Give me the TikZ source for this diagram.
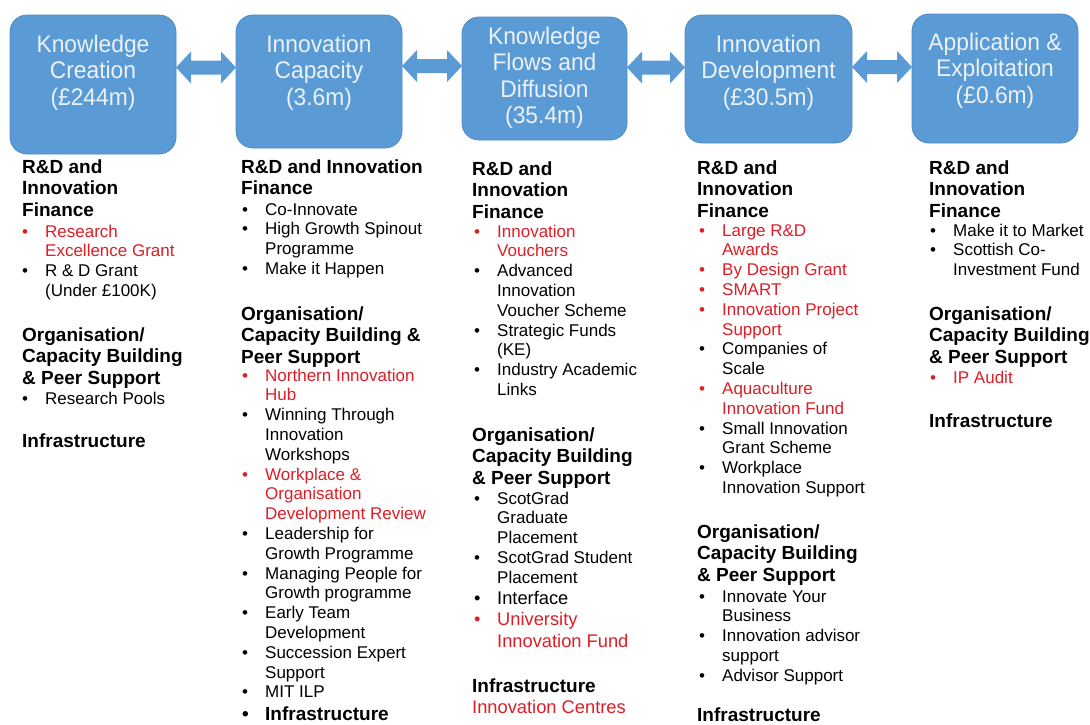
\documentclass[tikz,border=0pt]{standalone}
\usepackage{fontspec}
\setmainfont{Liberation Sans}
\newfontfamily\stagefont[FakeStretch=0.95]{Liberation Sans}
\usetikzlibrary{calc}

\definecolor{stageblue}{RGB}{91,155,213}
\definecolor{stageedge}{RGB}{78,138,198}
\definecolor{stagetext}{RGB}{236,241,248}
\definecolor{itemred}{RGB}{222,30,38}

% a left-aligned block of lines whose base anchor is its first baseline
\newcommand\leftlines[1]{\vtop{\halign{##\hfil\cr#1\crcr}}}
\newcommand\midlines[1]{\vtop{\halign{\hfil##\hfil\cr#1\crcr}}}
\newlength\itemgap
\setlength\itemgap{23pt}
\newcommand\itm[1]{\makebox[\itemgap][l]{\textbullet}#1}
\newcommand\cnt[1]{\makebox[\itemgap][l]{}#1}
\newcommand\ritm[1]{{\color{itemred}\itm{#1}}}
\newcommand\rcnt[1]{{\color{itemred}\cnt{#1}}}

% double-headed block arrow between two stages at height #3
\newcommand\linkarrow[3]{%
  \fill[stageblue] let \p1=(#1.east), \p2=(#2.west), \p3=(0,#3) in
    (\x1,\y3) -- (\x1+15pt,\y3+16pt) -- (\x1+15pt,\y3+7pt)
    -- (\x2-15pt,\y3+7pt) -- (\x2-15pt,\y3+16pt) -- (\x2,\y3)
    -- (\x2-15pt,\y3-16pt) -- (\x2-15pt,\y3-7pt)
    -- (\x1+15pt,\y3-7pt) -- (\x1+15pt,\y3-16pt) -- cycle;}

\tikzset{
  stage/.style={rounded corners=17pt, fill=stageblue, draw=stageedge,
    line width=0.8pt, inner sep=0pt, outer sep=0pt},
  stagelabel/.style={anchor=base, inner sep=0pt, text=stagetext,
    font=\stagefont\fontsize{24}{26.6}\selectfont},
  heading/.style={anchor=base west, inner sep=0pt,
    font=\fontsize{19}{21.8}\selectfont\bfseries},
  items/.style={anchor=base west, inner sep=0pt,
    font=\fontsize{17}{19.8}\selectfont},
  bigitems/.style={anchor=base west, inner sep=0pt,
    font=\fontsize{18.3}{21.5}\selectfont},
}

\begin{document}
\begin{tikzpicture}[x=1pt,y=-1pt]
\useasboundingbox[fill=white] (0,0) rectangle (1090,724);

% stages
\node[stage, minimum width=166, minimum height=139] (b1) at (93,84.5) {};
\node[stage, minimum width=166, minimum height=133] (b2) at (319,81.5) {};
\node[stage, minimum width=165, minimum height=123] (b3) at (544.5,78.5) {};
\node[stage, minimum width=167, minimum height=128] (b4) at (768.5,79) {};
\node[stage, minimum width=166, minimum height=129] (b5) at (995,78.5) {};

\node[stagelabel] (l1) at (93,52) {\midlines{Knowledge\cr Creation\cr (£244m)}};
\node[stagelabel] (l2) at (319,52) {\midlines{Innovation\cr Capacity\cr (3.6m)}};
\node[stagelabel] (l3) at (544.5,44) {\midlines{Knowledge\cr Flows and\cr Diffusion\cr (35.4m)}};
\node[stagelabel] (l4) at (768.5,52) {\midlines{Innovation\cr Development\cr (£30.5m)}};
\node[stagelabel] (l5) at (995,50) {\midlines{Application \&\cr Exploitation\cr (£0.6m)}};

% links between stages
\linkarrow{b1}{b2}{67.5}
\linkarrow{b2}{b3}{66}
\linkarrow{b3}{b4}{67.5}
\linkarrow{b4}{b5}{67}

% column 1
\node[heading] (c1h1) at (22,173) {\leftlines{R\&D and\cr Innovation\cr Finance}};
\node[items] (c1i1) at (22,237) {\leftlines{%
  \ritm{Research}\cr \rcnt{Excellence Grant}\cr
  \itm{R \& D Grant}\cr \cnt{(Under £100K)}}};
\node[heading] (c1h2) at (22,341) {\leftlines{Organisation/\cr Capacity Building\cr \& Peer Support}};
\node[items] (c1i2) at (22,404) {\leftlines{\itm{Research Pools}}};
\node[heading] (c1h3) at (22,447) {Infrastructure};

% column 2
\node[heading] (c2h1) at (241,173) {\leftlines{R\&D and Innovation\cr Finance}};
\node[items] (c2i1) at (242,215) {\leftlines{%
  \itm{Co-Innovate}\cr \itm{High Growth Spinout}\cr \cnt{Programme}\cr
  \itm{Make it Happen}}};
\node[heading] (c2h2) at (241,320) {\leftlines{Organisation/\cr Capacity Building \&\cr Peer Support}};
\node[items] (c2i2) at (242,381) {\leftlines{%
  \ritm{Northern Innovation}\cr \rcnt{Hub}\cr
  \itm{Winning Through}\cr \cnt{Innovation}\cr \cnt{Workshops}\cr
  \ritm{Workplace \&}\cr \rcnt{Organisation}\cr \rcnt{Development Review}\cr
  \itm{Leadership for}\cr \cnt{Growth Programme}\cr
  \itm{Managing People for}\cr \cnt{Growth programme}\cr
  \itm{Early Team}\cr \cnt{Development}\cr
  \itm{Succession Expert}\cr \cnt{Support}\cr
  \itm{MIT ILP}}};
\node[heading] (c2h3) at (242,720) {\itm{Infrastructure}};

% column 3
\node[heading] (c3h1) at (472,175) {\leftlines{R\&D and\cr Innovation\cr Finance}};
\node[items] (c3i1) at (474,237) {\leftlines{%
  \ritm{Innovation}\cr \rcnt{Vouchers}\cr
  \itm{Advanced}\cr \cnt{Innovation}\cr \cnt{Voucher Scheme}\cr
  \itm{Strategic Funds}\cr \cnt{(KE)}\cr
  \itm{Industry Academic}\cr \cnt{Links}}};
\node[heading] (c3h2) at (472,441) {\leftlines{Organisation/\cr Capacity Building\cr \& Peer Support}};
\node[items] (c3i2) at (474,504) {\leftlines{%
  \itm{ScotGrad}\cr \cnt{Graduate}\cr \cnt{Placement}\cr
  \itm{ScotGrad Student}\cr \cnt{Placement}}};
\node[bigitems] (c3i3) at (474,604) {\leftlines{%
  \itm{Interface}\cr \ritm{University}\cr \rcnt{Innovation Fund}}};
\node[heading] (c3h3) at (472,692) {Infrastructure};
\node[bigitems, text=itemred] (c3i4) at (472,713) {Innovation Centres};

% column 4
\node[heading] (c4h1) at (697,174) {\leftlines{R\&D and\cr Innovation\cr Finance}};
\node[items] (c4i1) at (699,236) {\leftlines{%
  \ritm{Large R\&D}\cr \rcnt{Awards}\cr
  \ritm{By Design Grant}\cr \ritm{SMART}\cr
  \ritm{Innovation Project}\cr \rcnt{Support}\cr
  \itm{Companies of}\cr \cnt{Scale}\cr
  \ritm{Aquaculture}\cr \rcnt{Innovation Fund}\cr
  \itm{Small Innovation}\cr \cnt{Grant Scheme}\cr
  \itm{Workplace}\cr \cnt{Innovation Support}}};
\node[heading] (c4h2) at (697,538) {\leftlines{Organisation/\cr Capacity Building\cr \& Peer Support}};
\node[items] (c4i2) at (699,602) {\leftlines{%
  \itm{Innovate Your}\cr \cnt{Business}\cr
  \itm{Innovation advisor}\cr \cnt{support}\cr
  \itm{Advisor Support}}};
\node[heading] (c4h3) at (697,721) {Infrastructure};

% column 5
\node[heading] (c5h1) at (929,174) {\leftlines{R\&D and\cr Innovation\cr Finance}};
\node[items] (c5i1) at (930,236) {\leftlines{%
  \itm{Make it to Market}\cr \itm{Scottish Co-}\cr \cnt{Investment Fund}}};
\node[heading] (c5h2) at (929,320) {\leftlines{Organisation/\cr Capacity Building\cr \& Peer Support}};
\node[items] (c5i2) at (930,383) {\leftlines{\ritm{IP Audit}}};
\node[heading] (c5h3) at (929,427) {Infrastructure};
\end{tikzpicture}
\end{document}
